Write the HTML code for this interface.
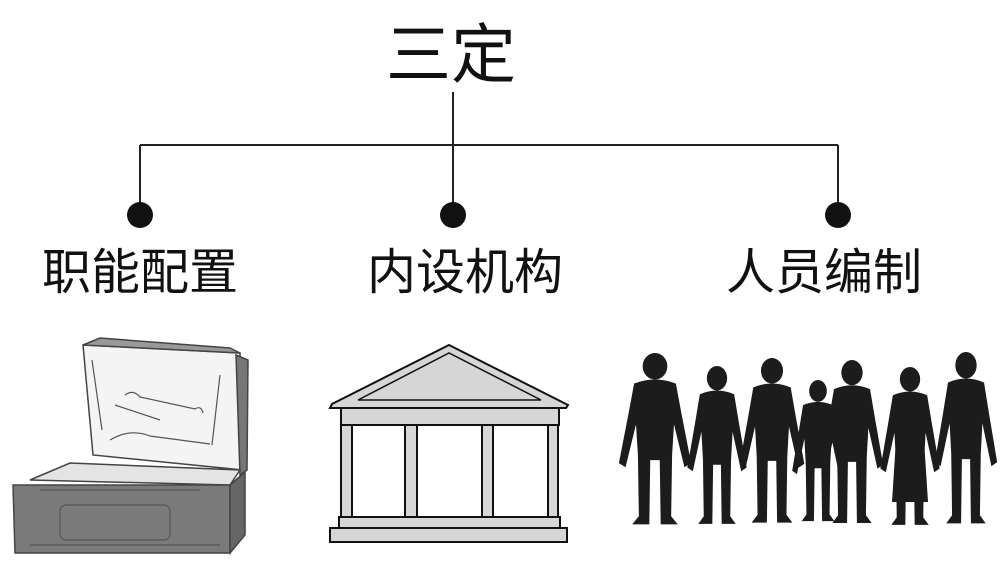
<!DOCTYPE html>
<html><head><meta charset="utf-8"><style>
html,body{margin:0;padding:0;background:#fff;}
body{width:1000px;height:568px;overflow:hidden;position:relative;font-family:"Liberation Sans","Noto Sans CJK SC",sans-serif;}
.t{position:absolute;color:#111;white-space:nowrap;line-height:1;}
</style></head><body>
<div class="t" style="left:386px;top:22px;font-size:65px;">三定</div>
<div class="t" style="left:42px;top:249px;font-size:49px;">职能配置</div>
<div class="t" style="left:367px;top:249px;font-size:49px;">内设机构</div>
<div class="t" style="left:726px;top:249px;font-size:49px;">人员编制</div>
<svg width="1000" height="568" style="position:absolute;left:0;top:0" xmlns="http://www.w3.org/2000/svg">
<g stroke="#222" stroke-width="2" fill="none">
<line x1="453" y1="92" x2="453" y2="145"/>
<line x1="140" y1="145" x2="838" y2="145"/>
<line x1="140" y1="145" x2="140" y2="210"/>
<line x1="453" y1="145" x2="453" y2="210"/>
<line x1="838" y1="145" x2="838" y2="210"/>
</g>
<g fill="#111"><circle cx="140" cy="215" r="13"/><circle cx="453" cy="215" r="13"/><circle cx="838" cy="215" r="13"/></g>

<!-- building -->
<g stroke="#111" stroke-width="2" fill="#d6d6d6">
<polygon points="449,345 568,405 566,408 330,408 332,404"/>
<polyline points="358,400 449,353 541,400 358,400" fill="none" stroke-width="1.5"/>
<rect x="341" y="408" width="218" height="17"/>
<rect x="341" y="425" width="11" height="92"/>
<rect x="405" y="425" width="12" height="92"/>
<rect x="482" y="425" width="11" height="92"/>
<rect x="548" y="425" width="10" height="92"/>
<rect x="339" y="517" width="221" height="11"/>
<rect x="330" y="528" width="237" height="14"/>
</g>
<rect x="353" y="426" width="51" height="90" fill="#fff"/>
<rect x="418" y="426" width="63" height="90" fill="#fff"/>
<rect x="494" y="426" width="53" height="90" fill="#fff"/>

<!-- toolbox -->
<g stroke="#444" stroke-width="1.5">
<polygon points="83,345 240,353 243,470 93,455" fill="#f4f4f4"/>
<polygon points="83,345 100,338 230,348 240,353" fill="#999"/>
<polygon points="236,355 248,360 247,470 240,475" fill="#777"/>
<polygon points="30,480 70,463 240,470 230,485" fill="#e4e4e4"/>
<polygon points="13,485 230,485 230,553 15,553" fill="#7a7a7a"/>
<polygon points="230,485 245,472 245,535 230,553" fill="#666"/>
</g>
<g stroke="#555" stroke-width="1.2" fill="none">
<path d="M115,405 L160,420 M125,395 q8,-6 15,2 l55,12 q6,-4 8,4"/>
<path d="M110,440 q20,-12 40,-4 l60,8"/>
<path d="M92,360 l10,70 M220,375 l-8,70"/>
<rect x="60" y="505" width="110" height="35" rx="6"/>
<path d="M40,490 l160,0 M30,545 l190,0"/>
</g>

<!-- people -->
<defs>
<g id="p">
<circle cx="0" cy="13" r="13"/>
<path d="M-22,30 Q0,22 22,30 L28,60 L38,108 L31,112 L20,70 L18,100 L17,160 L24,168 L6,168 L5,105 L-5,105 L-6,168 L-24,168 L-17,160 L-18,100 L-20,70 L-31,112 L-38,108 L-28,60 Z"/>
</g>
</defs>
<g fill="#1c1c1c">
<use href="#p" transform="translate(655,353) scale(0.95,1.02)"/>
<use href="#p" transform="translate(717,366) scale(0.78,0.94)"/>
<use href="#p" transform="translate(772,358) scale(0.85,0.98)"/>
<use href="#p" transform="translate(818,380) scale(0.68,0.84)"/>
<use href="#p" transform="translate(852,360) scale(0.82,0.97)"/>
<use href="#p" transform="translate(910,367) scale(0.78,0.94)"/>
<use href="#p" transform="translate(966,352) scale(0.82,1.02)"/>
<path d="M896,440 L924,440 L928,502 L892,502 Z"/>
</g>
</svg>
</body></html>
